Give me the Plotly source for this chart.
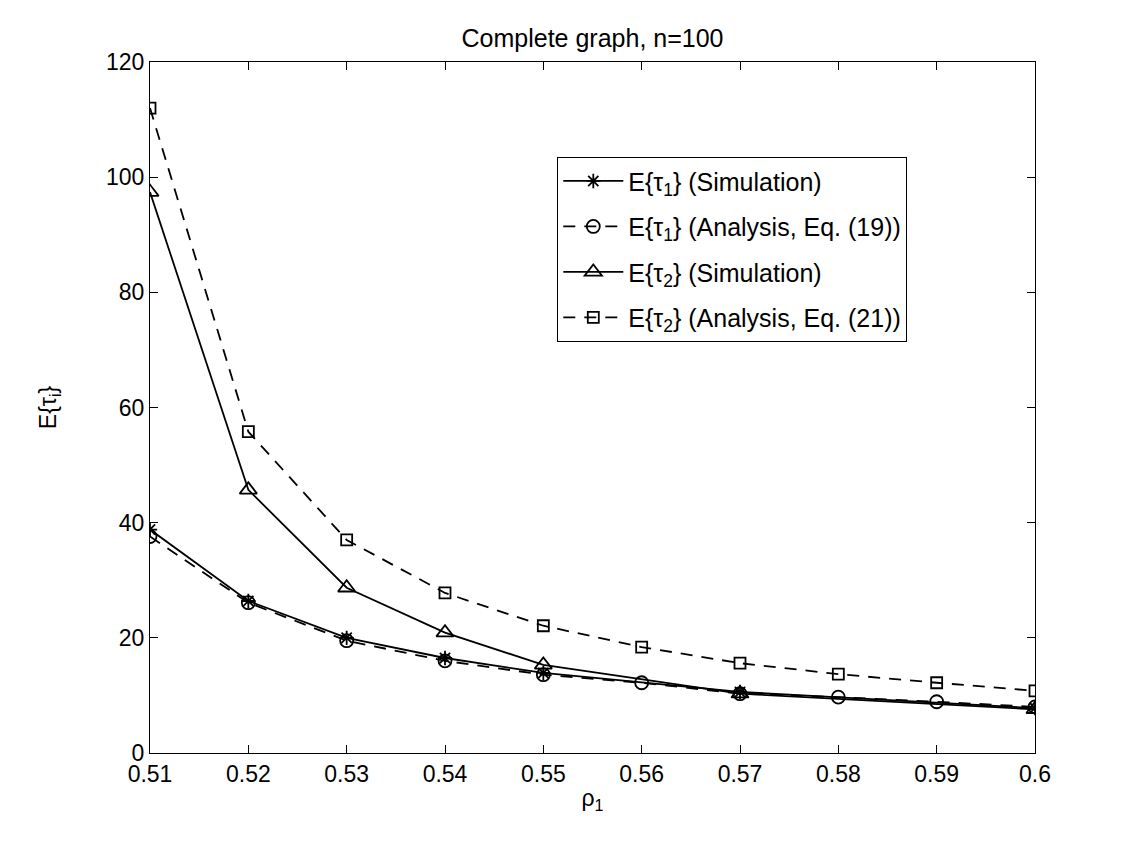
import plotly.graph_objects as go

rho_sim = [0.51, 0.52, 0.53, 0.54, 0.55, 0.57, 0.60]
rho_ana = [0.51, 0.52, 0.53, 0.54, 0.55, 0.56, 0.57, 0.58, 0.59, 0.60]

tau1_sim = [38.8, 26.4, 20.0, 16.5, 13.9, 10.6, 7.8]
tau1_ana = [37.6, 26.1, 19.5, 16.0, 13.6, 12.2, 10.3, 9.7, 8.9, 8.0]
tau2_sim = [97.4, 45.7, 28.7, 20.9, 15.3, 10.3, 7.6]
tau2_ana = [112.0, 55.8, 37.0, 27.8, 22.1, 18.4, 15.6, 13.7, 12.2, 10.8]

x_ticks = [0.51, 0.52, 0.53, 0.54, 0.55, 0.56, 0.57, 0.58, 0.59, 0.6]
x_tick_labels = ["0.51", "0.52", "0.53", "0.54", "0.55", "0.56", "0.57", "0.58", "0.59", "0.6"]
y_ticks = [0, 20, 40, 60, 80, 100, 120]

FONT = "Liberation Sans, Arial, Helvetica, sans-serif"
DASH = "12px,9px"
LW = 1.8

fig = go.Figure()
fig.add_trace(go.Scatter(
    x=rho_sim, y=tau1_sim, mode="lines+markers",
    name="E{τ<sub>1</sub>} (Simulation)",
    line=dict(color="black", width=LW),
    marker=dict(symbol="asterisk-open", size=12, color="black", line=dict(color="black", width=1.8)),
    legendgroup="a",
))
fig.add_trace(go.Scatter(
    x=rho_ana, y=tau1_ana, mode="lines+markers",
    name="E{τ<sub>1</sub>} (Analysis, Eq. (19))",
    line=dict(color="black", width=LW, dash=DASH),
    marker=dict(symbol="circle-open", size=13, color="black", line=dict(color="black", width=1.8)),
    legendgroup="b",
))
fig.add_trace(go.Scatter(
    x=rho_sim, y=tau2_sim, mode="lines+markers",
    name="E{τ<sub>2</sub>} (Simulation)",
    line=dict(color="black", width=LW),
    marker=dict(symbol="triangle-up-open", size=15, color="black", line=dict(color="black", width=1.8)),
    legendgroup="c",
))
fig.add_trace(go.Scatter(
    x=rho_ana, y=tau2_ana, mode="lines+markers",
    name="E{τ<sub>2</sub>} (Analysis, Eq. (21))",
    line=dict(color="black", width=LW, dash=DASH),
    marker=dict(symbol="square-open", size=11, color="black", line=dict(color="black", width=1.8)),
    legendgroup="d",
))

fig.update_layout(
    width=1142, height=846,
    margin=dict(l=150, r=107, t=62, b=93),
    paper_bgcolor="white", plot_bgcolor="white",
    font=dict(family=FONT, size=24, color="black"),
    title=dict(text="Complete graph, n=100", x=(150 + 1035) / 2 / 1142, xanchor="center",
               y=1 - 38 / 846, yanchor="middle", font=dict(size=25, family=FONT)),
    showlegend=True,
    legend=dict(x=0.46, y=0.8625, xanchor="left", yanchor="top",
                bgcolor="white", bordercolor="black", borderwidth=1.2,
                font=dict(size=25, family=FONT), tracegroupgap=10,
                itemwidth=60),
)
fig.update_xaxes(
    range=[0.51, 0.6], tickvals=x_ticks, ticktext=x_tick_labels,
    showline=True, linecolor="black", linewidth=1.2, mirror="ticks",
    ticks="inside", ticklen=8, tickcolor="black", tickwidth=1,
    showgrid=False, zeroline=False,
    title=dict(text="ρ<sub>1</sub>", standoff=4, font=dict(size=23)),
    tickfont=dict(size=23),
)
fig.update_yaxes(
    range=[0, 120], tickvals=y_ticks,
    showline=True, linecolor="black", linewidth=1.2, mirror="ticks",
    ticks="inside", ticklen=8, tickcolor="black", tickwidth=1,
    showgrid=False, zeroline=False,
    title=dict(text="E{τ<sub>i</sub>}", standoff=42, font=dict(size=23)),
    tickfont=dict(size=23),
)

fig.write_html("out.html")
